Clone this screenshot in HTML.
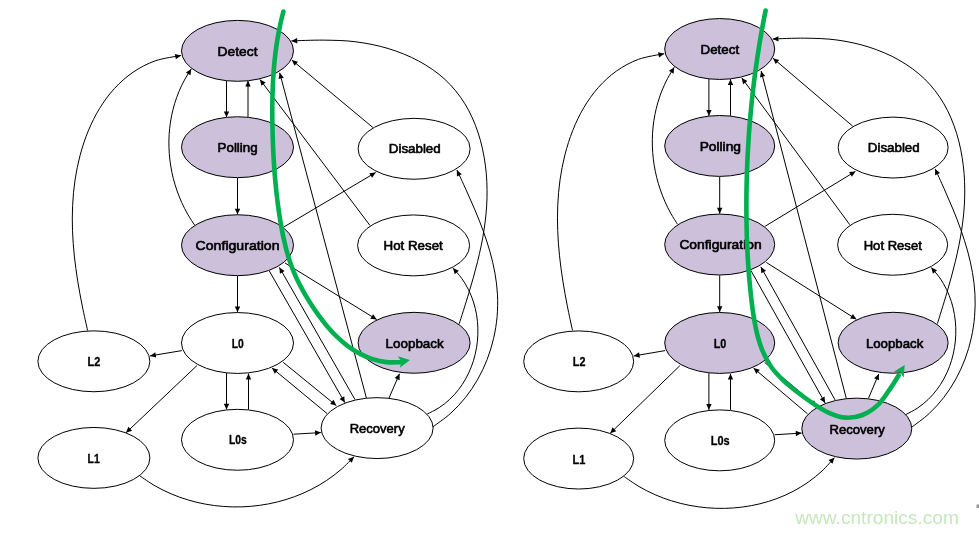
<!DOCTYPE html>
<html lang="en">
<head>
<meta charset="utf-8">
<title>LTSSM state diagrams</title>
<style>
html,body{margin:0;padding:0;background:#fff;}
body{width:979px;height:533px;overflow:hidden;}
svg{display:block;will-change:transform;}
.d line,.d path{fill:none;stroke:#000;stroke-width:1;}
.d ellipse{stroke:#000;stroke-width:1;}
.d .h{fill:#000;stroke:none;}
.d text{font-family:"Liberation Sans",sans-serif;font-weight:normal;font-size:12.5px;fill:#000;stroke:#000;stroke-width:0.6;stroke-linejoin:round;}
.d text.s{font-weight:bold;stroke-width:0.3;}
.d path.g{stroke:#00b050;stroke-width:4.6;stroke-linecap:round;stroke-linejoin:round;}
.d .gh{fill:#00b050;stroke:none;}
.wm{font-family:"Liberation Sans",sans-serif;font-size:19px;fill:#c6e7bc;}
</style>
</head>
<body>
<svg width="979" height="533" viewBox="0 0 979 533">
<g class="d">
<line x1="226.5" y1="80.5" x2="226.5" y2="117.3"/>
<polygon class="h" points="226.5,117.3 223.8,111.5 229.2,111.5"/>
<line x1="248" y1="117.3" x2="248" y2="80.8"/>
<polygon class="h" points="248,80.8 250.7,86.6 245.3,86.6"/>
<line x1="237.5" y1="178" x2="237.5" y2="214.5"/>
<polygon class="h" points="237.5,214.5 234.8,208.7 240.2,208.7"/>
<line x1="237.5" y1="275.8" x2="237.5" y2="312.2"/>
<polygon class="h" points="237.5,312.2 234.8,306.4 240.2,306.4"/>
<line x1="226.5" y1="373" x2="226.5" y2="409.5"/>
<polygon class="h" points="226.5,409.5 223.8,403.7 229.2,403.7"/>
<line x1="248.5" y1="409.5" x2="248.5" y2="373.6"/>
<polygon class="h" points="248.5,373.6 251.2,379.4 245.8,379.4"/>
<line x1="181.9" y1="350.6" x2="150" y2="355.9"/>
<polygon class="h" points="150,355.9 155.28,352.29 156.16,357.61"/>
<line x1="196.9" y1="365.6" x2="126" y2="432.8"/>
<polygon class="h" points="126,432.8 128.35,426.85 132.07,430.77"/>
<line x1="293.5" y1="434.2" x2="320.9" y2="432.6"/>
<polygon class="h" points="320.9,432.6 315.27,435.63 314.95,430.24"/>
<line x1="283.2" y1="362.3" x2="336.3" y2="405.6"/>
<polygon class="h" points="336.3,405.6 330.1,404.03 333.51,399.84"/>
<line x1="327" y1="413.5" x2="272" y2="368"/>
<polygon class="h" points="272,368 278.19,369.62 274.75,373.78"/>
<line x1="269.3" y1="271" x2="344.8" y2="402.6"/>
<polygon class="h" points="344.8,402.6 339.57,398.91 344.26,396.23"/>
<line x1="355" y1="399.6" x2="279.4" y2="267.4"/>
<polygon class="h" points="279.4,267.4 284.62,271.09 279.94,273.78"/>
<line x1="366.4" y1="398" x2="279.7" y2="72.8"/>
<polygon class="h" points="279.7,72.8 283.8,77.71 278.59,79.1"/>
<line x1="285" y1="263" x2="376.7" y2="319.5"/>
<polygon class="h" points="376.7,319.5 370.35,318.76 373.18,314.16"/>
<line x1="389" y1="398" x2="399.5" y2="373.8"/>
<polygon class="h" points="399.5,373.8 399.67,380.2 394.71,378.05"/>
<line x1="283.8" y1="227" x2="375.7" y2="172.5"/>
<polygon class="h" points="375.7,172.5 372.09,177.78 369.33,173.14"/>
<line x1="372.9" y1="127.5" x2="291.8" y2="60"/>
<polygon class="h" points="291.8,60 297.99,61.64 294.53,65.79"/>
<line x1="370" y1="225.5" x2="260" y2="79.6"/>
<polygon class="h" points="260,79.6 265.65,82.61 261.34,85.86"/>
<path d="M87.6 330.5C86.71 326.42 83.92 314.25 82.27 306.03C80.63 297.8 79.05 289.49 77.73 281.15C76.41 272.81 75.22 264.4 74.35 255.99C73.48 247.58 72.8 239.13 72.51 230.69C72.22 222.25 72.19 213.78 72.61 205.36C73.03 196.94 73.77 188.51 75.02 180.14C76.28 171.78 77.93 163.37 80.13 155.17C82.34 146.96 85.01 138.72 88.26 130.92C91.51 123.12 95.27 115.44 99.64 108.37C104.01 101.3 108.92 94.5 114.48 88.49C120.03 82.47 126.2 76.88 132.99 72.28C139.77 67.67 147.19 63.67 155.19 60.87C163.19 58.08 176.7 56.4 181 55.5"/>
<polygon class="h" points="181,55.5 175.87,59.33 174.77,54.04"/>
<path d="M194.5 225C193.36 223.19 189.77 217.87 187.66 214.17C185.55 210.46 183.61 206.65 181.85 202.78C180.09 198.91 178.5 194.95 177.09 190.94C175.68 186.94 174.44 182.85 173.39 178.75C172.34 174.64 171.47 170.47 170.79 166.29C170.1 162.11 169.6 157.89 169.28 153.67C168.97 149.46 168.84 145.21 168.9 140.99C168.96 136.77 169.21 132.54 169.66 128.34C170.1 124.15 170.74 119.96 171.58 115.82C172.41 111.69 173.44 107.57 174.67 103.53C175.9 99.49 177.33 95.48 178.96 91.57C180.59 87.65 182.42 83.78 184.46 80.02C186.5 76.26 190.08 70.84 191.2 69"/>
<polygon class="h" points="191.2,69 190.48,75.36 185.87,72.54"/>
<path d="M139.9 475.9C142.43 477.56 149.84 482.87 155.07 485.86C160.29 488.86 165.72 491.54 171.25 493.9C176.77 496.26 182.47 498.29 188.22 500.01C193.98 501.73 199.86 503.12 205.77 504.2C211.68 505.28 217.69 506.04 223.69 506.48C229.68 506.93 235.74 507.05 241.74 506.86C247.75 506.67 253.78 506.16 259.73 505.34C265.67 504.52 271.61 503.39 277.42 501.94C283.24 500.49 289 498.72 294.61 496.65C300.22 494.57 305.75 492.18 311.08 489.48C316.42 486.78 321.63 483.77 326.61 480.45C331.6 477.12 336.43 473.49 340.99 469.55C345.56 465.61 351.83 458.92 354 456.8"/>
<polygon class="h" points="354,456.8 351.75,462.79 347.97,458.93"/>
<path d="M459.2 323.8C460.82 318.63 465.84 303.18 468.9 292.81C471.96 282.44 475.06 272.05 477.58 261.58C480.1 251.11 482.45 240.59 484.02 229.96C485.59 219.33 486.79 208.62 487.01 197.81C487.23 186.99 486.81 175.87 485.34 165.08C483.87 154.29 481.6 143.28 478.19 133.06C474.78 122.85 470.46 112.75 464.9 103.8C459.35 94.85 452.59 86.49 444.87 79.35C437.14 72.21 427.99 66.08 418.53 60.94C409.07 55.8 398.53 51.69 388.1 48.5C377.67 45.31 366.65 43.21 355.93 41.82C345.21 40.42 334.52 40.29 323.76 40.14C313.01 39.98 296.79 40.77 291.4 40.9"/>
<polygon class="h" points="291.4,40.9 297.13,38.06 297.26,43.46"/>
<path d="M432.8 426.9C435.76 424.65 445.1 418.35 450.57 413.42C456.03 408.5 461.05 403.06 465.59 397.35C470.13 391.64 474.22 385.5 477.82 379.17C481.42 372.84 484.55 366.15 487.18 359.35C489.81 352.55 491.97 345.48 493.62 338.37C495.27 331.26 496.43 323.96 497.08 316.7C497.72 309.44 497.84 302.09 497.49 294.83C497.13 287.56 496.2 280.31 494.95 273.11C493.69 265.92 491.94 258.76 489.96 251.67C487.99 244.58 485.6 237.54 483.1 230.58C480.59 223.61 477.77 216.7 474.92 209.89C472.07 203.07 469 196.32 466 189.67C463 183.02 458.42 173.28 456.9 170"/>
<polygon class="h" points="456.9,170 461.79,174.13 456.88,176.4"/>
<path d="M427.2 414.1C429.2 413.02 435.44 410.09 439.18 407.65C442.91 405.21 446.4 402.43 449.61 399.44C452.82 396.46 455.78 393.18 458.46 389.74C461.14 386.3 463.56 382.61 465.69 378.81C467.83 375 469.7 370.99 471.28 366.9C472.87 362.82 474.18 358.57 475.2 354.29C476.22 350.01 476.96 345.61 477.41 341.23C477.85 336.84 478.01 332.38 477.87 327.98C477.73 323.58 477.31 319.14 476.57 314.81C475.83 310.47 474.8 306.15 473.46 301.97C472.12 297.79 470.48 293.67 468.52 289.73C466.56 285.8 464.3 281.96 461.71 278.36C459.12 274.75 454.45 269.81 453 268.1"/>
<polygon class="h" points="453,268.1 458.81,270.77 454.7,274.27"/>
<ellipse cx="237.5" cy="50.85" rx="56" ry="30.45" fill="#ccc0da"/>
<ellipse cx="237.5" cy="147.2" rx="56" ry="30.45" fill="#ccc0da"/>
<ellipse cx="237.5" cy="245.2" rx="56" ry="30.45" fill="#ccc0da"/>
<ellipse cx="237.5" cy="343" rx="56" ry="30.45" fill="#fff"/>
<ellipse cx="237.5" cy="439.8" rx="56" ry="30.45" fill="#fff"/>
<ellipse cx="93.9" cy="361.3" rx="56" ry="30.45" fill="#fff"/>
<ellipse cx="93.9" cy="457.9" rx="56" ry="30.45" fill="#fff"/>
<ellipse cx="414.1" cy="148.8" rx="56" ry="30.45" fill="#fff"/>
<ellipse cx="413.6" cy="245.4" rx="56" ry="30.45" fill="#fff"/>
<ellipse cx="414.1" cy="342.8" rx="56" ry="30.45" fill="#ccc0da"/>
<ellipse cx="377.1" cy="428.1" rx="56" ry="30.45" fill="#fff"/>
<text x="217.6" y="55.9" textLength="39.9" lengthAdjust="spacingAndGlyphs">Detect</text>
<text x="217.6" y="151.6" textLength="40" lengthAdjust="spacingAndGlyphs">Polling</text>
<text x="195.6" y="249.7" textLength="83.9" lengthAdjust="spacingAndGlyphs">Configuration</text>
<text class="s" x="231.7" y="347.9" textLength="12.1" lengthAdjust="spacingAndGlyphs">L0</text>
<text class="s" x="228.9" y="443.7" textLength="17.8" lengthAdjust="spacingAndGlyphs">L0s</text>
<text class="s" x="87.5" y="366" textLength="12.8" lengthAdjust="spacingAndGlyphs">L2</text>
<text class="s" x="87.5" y="462.9" textLength="12.2" lengthAdjust="spacingAndGlyphs">L1</text>
<text x="388.8" y="152.5" textLength="51.9" lengthAdjust="spacingAndGlyphs">Disabled</text>
<text x="383.5" y="249.8" textLength="59.3" lengthAdjust="spacingAndGlyphs">Hot Reset</text>
<text x="385.6" y="347.6" textLength="58.1" lengthAdjust="spacingAndGlyphs">Loopback</text>
<text x="349.7" y="432.9" textLength="55" lengthAdjust="spacingAndGlyphs">Recovery</text>
<path class="g" d="M283.4 11.5C282.84 13.82 281.05 20.78 280.05 25.43C279.06 30.09 278.19 34.76 277.41 39.44C276.63 44.12 275.97 48.82 275.4 53.52C274.82 58.22 274.35 62.94 273.95 67.66C273.55 72.38 273.24 77.1 272.99 81.84C272.75 86.57 272.58 91.31 272.47 96.06C272.35 100.8 272.31 105.55 272.3 110.3C272.29 115.05 272.34 119.81 272.42 124.56C272.49 129.31 272.61 134.07 272.77 138.83C272.92 143.58 273.11 148.34 273.35 153.09C273.59 157.84 273.87 162.59 274.2 167.33C274.53 172.08 274.91 176.82 275.34 181.56C275.78 186.29 276.26 191.03 276.81 195.75C277.36 200.47 277.96 205.19 278.64 209.9C279.31 214.61 280.03 219.31 280.85 223.99C281.67 228.68 282.53 233.36 283.54 238C284.55 242.63 285.63 247.25 286.91 251.79C288.18 256.34 289.57 260.85 291.17 265.27C292.78 269.69 294.57 274.04 296.55 278.31C298.52 282.59 300.72 286.77 303.03 290.91C305.34 295.06 307.82 299.14 310.4 303.16C312.98 307.19 315.67 311.2 318.5 315.08C321.32 318.97 324.24 322.82 327.34 326.46C330.43 330.11 333.65 333.66 337.06 336.94C340.48 340.22 344.06 343.35 347.82 346.13C351.59 348.92 355.54 351.49 359.65 353.65C363.76 355.82 368.05 357.7 372.5 359.11C376.94 360.51 381.55 361.57 386.3 362.09C391.05 362.6 398.55 362.18 401 362.2"/>
<polygon class="gh" points="410,360 399.76,367.85 401.54,361.57 397.63,356.35"/>
</g>
<g class="d">
<line x1="708.9" y1="78.83" x2="708.9" y2="115.86"/>
<polygon class="h" points="708.9,115.86 706.2,110.06 711.6,110.06"/>
<line x1="730.5" y1="115.86" x2="730.5" y2="79.14"/>
<polygon class="h" points="730.5,79.14 733.2,84.94 727.8,84.94"/>
<line x1="719.7" y1="176.94" x2="719.7" y2="213.66"/>
<polygon class="h" points="719.7,213.66 717,207.86 722.4,207.86"/>
<line x1="719.7" y1="275.34" x2="719.7" y2="311.97"/>
<polygon class="h" points="719.7,311.97 717,306.17 722.4,306.17"/>
<line x1="708.9" y1="373.15" x2="708.9" y2="409.87"/>
<polygon class="h" points="708.9,409.87 706.2,404.07 711.6,404.07"/>
<line x1="730.5" y1="409.87" x2="730.5" y2="373.75"/>
<polygon class="h" points="730.5,373.75 733.2,379.55 727.8,379.55"/>
<line x1="665.1" y1="350.61" x2="633.77" y2="355.94"/>
<polygon class="h" points="633.77,355.94 639.04,352.31 639.94,357.63"/>
<line x1="679.83" y1="365.7" x2="610.21" y2="433.32"/>
<polygon class="h" points="610.21,433.32 612.48,427.34 616.25,431.21"/>
<line x1="774.69" y1="434.73" x2="801.6" y2="433.12"/>
<polygon class="h" points="801.6,433.12 795.97,436.16 795.65,430.77"/>
<line x1="764.58" y1="362.38" x2="816.72" y2="405.95"/>
<polygon class="h" points="816.72,405.95 810.54,404.3 814,400.16"/>
<line x1="807.59" y1="413.9" x2="753.58" y2="368.12"/>
<polygon class="h" points="753.58,368.12 759.75,369.81 756.26,373.93"/>
<line x1="750.93" y1="270.51" x2="825.07" y2="402.93"/>
<polygon class="h" points="825.07,402.93 819.88,399.19 824.59,396.55"/>
<line x1="835.08" y1="399.91" x2="760.84" y2="266.89"/>
<polygon class="h" points="760.84,266.89 766.03,270.64 761.31,273.27"/>
<line x1="846.28" y1="398.3" x2="761.14" y2="71.09"/>
<polygon class="h" points="761.14,71.09 765.21,76.02 759.99,77.38"/>
<line x1="766.34" y1="262.47" x2="856.39" y2="319.32"/>
<polygon class="h" points="856.39,319.32 850.05,318.5 852.93,313.94"/>
<line x1="868.47" y1="398.3" x2="878.78" y2="373.95"/>
<polygon class="h" points="878.78,373.95 879.01,380.35 874.03,378.24"/>
<line x1="765.16" y1="226.24" x2="855.41" y2="171.4"/>
<polygon class="h" points="855.41,171.4 851.86,176.72 849.05,172.11"/>
<line x1="852.66" y1="126.13" x2="773.02" y2="58.21"/>
<polygon class="h" points="773.02,58.21 779.19,59.92 775.68,64.02"/>
<line x1="849.81" y1="224.73" x2="741.79" y2="77.93"/>
<polygon class="h" points="741.79,77.93 747.41,81 743.06,84.2"/>
<path d="M572.5 330.38C571.63 326.29 568.9 314.08 567.29 305.84C565.69 297.6 564.14 289.28 562.85 280.94C561.55 272.6 560.39 264.2 559.53 255.79C558.67 247.38 558 238.93 557.7 230.5C557.41 222.06 557.36 213.6 557.75 205.18C558.13 196.75 558.83 188.31 560.03 179.93C561.22 171.55 562.8 163.12 564.92 154.88C567.04 146.64 569.6 138.35 572.74 130.49C575.88 122.63 579.52 114.88 583.77 107.72C588.02 100.57 592.81 93.68 598.26 87.57C603.71 81.46 609.76 75.76 616.46 71.05C623.16 66.35 630.5 62.23 638.45 59.33C646.41 56.44 659.92 54.62 664.22 53.68"/>
<polygon class="h" points="664.22,53.68 659.13,57.56 657.97,52.29"/>
<path d="M677.47 224.23C676.35 222.4 672.82 217.02 670.75 213.28C668.68 209.54 666.77 205.7 665.04 201.8C663.31 197.9 661.74 193.91 660.36 189.88C658.98 185.85 657.76 181.74 656.73 177.61C655.7 173.49 654.84 169.3 654.17 165.1C653.5 160.9 653 156.67 652.69 152.43C652.38 148.2 652.26 143.94 652.32 139.7C652.38 135.46 652.63 131.21 653.07 127C653.5 122.79 654.13 118.58 654.95 114.43C655.77 110.27 656.78 106.14 657.99 102.07C659.2 98 660.6 93.98 662.21 90.03C663.81 86.08 665.61 82.19 667.61 78.4C669.62 74.6 673.13 69.12 674.23 67.26"/>
<polygon class="h" points="674.23,67.26 673.59,73.63 668.95,70.87"/>
<path d="M624.2 476.6C626.66 478.25 633.87 483.52 638.98 486.52C644.09 489.52 649.43 492.22 654.87 494.61C660.3 497 665.92 499.09 671.61 500.87C677.29 502.64 683.12 504.11 688.98 505.25C694.83 506.4 700.79 507.24 706.73 507.76C712.68 508.28 718.69 508.49 724.64 508.37C730.6 508.25 736.58 507.81 742.47 507.05C748.36 506.29 754.23 505.21 759.97 503.79C765.71 502.38 771.4 500.64 776.92 498.57C782.43 496.5 787.86 494.11 793.07 491.38C798.28 488.64 803.36 485.58 808.19 482.18C813.02 478.77 817.68 475.04 822.05 470.96C826.42 466.88 832.34 459.91 834.4 457.7"/>
<polygon class="h" points="834.4,457.7 832.42,463.78 828.47,460.1"/>
<path d="M937.41 323.64C938.99 318.48 943.89 303.02 946.88 292.67C949.87 282.31 952.88 271.96 955.34 261.52C957.81 251.09 960.1 240.62 961.65 230.03C963.21 219.45 964.4 208.79 964.67 198.01C964.94 187.24 964.62 176.17 963.27 165.39C961.93 154.61 959.82 143.59 956.6 133.33C953.38 123.08 949.28 112.92 943.95 103.86C938.62 94.8 932.14 86.29 924.64 78.98C917.13 71.68 908.22 65.36 898.93 60.04C889.65 54.73 879.27 50.42 868.94 47.08C858.61 43.74 847.65 41.49 836.96 40.01C826.27 38.52 815.53 38.34 804.81 38.17C794.09 38 777.99 38.85 772.63 38.99"/>
<polygon class="h" points="772.63,38.99 778.36,36.14 778.49,41.54"/>
<path d="M911.48 427.38C914.42 425.08 923.7 418.61 929.1 413.6C934.51 408.58 939.46 403.07 943.93 397.3C948.4 391.52 952.41 385.33 955.93 378.95C959.45 372.56 962.5 365.84 965.07 359C967.63 352.17 969.71 345.07 971.3 337.93C972.9 330.8 974.01 323.48 974.61 316.2C975.22 308.92 975.32 301.55 974.96 294.26C974.6 286.98 973.68 279.7 972.45 272.48C971.22 265.27 969.51 258.09 967.58 250.97C965.65 243.85 963.32 236.78 960.87 229.79C958.42 222.79 955.67 215.85 952.88 209C950.08 202.15 947.07 195.36 944.12 188.68C941.17 181.99 936.64 172.19 935.15 168.89"/>
<polygon class="h" points="935.15,168.89 940,173.06 935.08,175.29"/>
<path d="M905.98 414.5C907.96 413.4 914.14 410.36 917.84 407.86C921.53 405.36 924.96 402.54 928.13 399.51C931.3 396.48 934.21 393.17 936.84 389.7C939.48 386.23 941.85 382.52 943.95 378.69C946.04 374.86 947.87 370.83 949.42 366.73C950.96 362.63 952.24 358.37 953.23 354.08C954.22 349.79 954.93 345.38 955.36 340.99C955.78 336.6 955.92 332.13 955.77 327.72C955.62 323.31 955.19 318.87 954.45 314.53C953.72 310.19 952.7 305.85 951.38 301.66C950.05 297.47 948.43 293.34 946.51 289.38C944.59 285.43 942.36 281.57 939.83 277.94C937.3 274.31 932.74 269.32 931.32 267.6"/>
<polygon class="h" points="931.32,267.6 937.09,270.36 932.92,273.79"/>
<ellipse cx="719.7" cy="49" rx="54.99" ry="30.45" fill="#ccc0da"/>
<ellipse cx="719.7" cy="145.95" rx="54.99" ry="30.45" fill="#ccc0da"/>
<ellipse cx="719.7" cy="244.55" rx="54.99" ry="30.45" fill="#ccc0da"/>
<ellipse cx="719.7" cy="342.96" rx="54.99" ry="30.45" fill="#ccc0da"/>
<ellipse cx="719.7" cy="440.36" rx="54.99" ry="30.45" fill="#fff"/>
<ellipse cx="578.68" cy="361.37" rx="54.99" ry="30.45" fill="#fff"/>
<ellipse cx="578.68" cy="458.57" rx="54.99" ry="30.45" fill="#fff"/>
<ellipse cx="893.12" cy="147.56" rx="54.99" ry="30.45" fill="#fff"/>
<ellipse cx="892.63" cy="244.76" rx="54.99" ry="30.45" fill="#fff"/>
<ellipse cx="893.12" cy="342.76" rx="54.99" ry="30.45" fill="#ccc0da"/>
<ellipse cx="856.79" cy="428.59" rx="54.99" ry="30.45" fill="#ccc0da"/>
<text x="700.6" y="54.1" textLength="38.5" lengthAdjust="spacingAndGlyphs">Detect</text>
<text x="699.7" y="150.9" textLength="41.3" lengthAdjust="spacingAndGlyphs">Polling</text>
<text x="679.4" y="248.6" textLength="82.2" lengthAdjust="spacingAndGlyphs">Configuration</text>
<text class="s" x="713.7" y="347.9" textLength="12.6" lengthAdjust="spacingAndGlyphs">L0</text>
<text class="s" x="710.8" y="444.7" textLength="18.9" lengthAdjust="spacingAndGlyphs">L0s</text>
<text class="s" x="572.8" y="366" textLength="12.6" lengthAdjust="spacingAndGlyphs">L2</text>
<text class="s" x="572.5" y="464" textLength="12.8" lengthAdjust="spacingAndGlyphs">L1</text>
<text x="867.8" y="151.7" textLength="51.9" lengthAdjust="spacingAndGlyphs">Disabled</text>
<text x="863.7" y="249.8" textLength="58.1" lengthAdjust="spacingAndGlyphs">Hot Reset</text>
<text x="865.9" y="347.6" textLength="57.4" lengthAdjust="spacingAndGlyphs">Loopback</text>
<text x="829.5" y="433.5" textLength="55.3" lengthAdjust="spacingAndGlyphs">Recovery</text>
<path class="g" d="M765.6 10.5C765.03 13.46 763.27 22.31 762.2 28.24C761.12 34.16 760.1 40.11 759.13 46.06C758.16 52.01 757.25 57.98 756.4 63.95C755.54 69.92 754.74 75.91 754 81.9C753.26 87.9 752.57 93.9 751.93 99.91C751.3 105.92 750.72 111.93 750.2 117.95C749.67 123.97 749.2 130 748.79 136.03C748.37 142.06 748.01 148.09 747.7 154.12C747.39 160.15 747.14 166.19 746.94 172.22C746.74 178.26 746.59 184.29 746.5 190.33C746.4 196.36 746.36 202.39 746.38 208.42C746.39 214.44 746.45 220.47 746.58 226.49C746.7 232.51 746.88 238.53 747.13 244.54C747.38 250.56 747.69 256.57 748.08 262.59C748.46 268.61 748.92 274.62 749.46 280.64C749.99 286.65 750.6 292.67 751.31 298.69C752.02 304.71 752.72 310.77 753.71 316.74C754.7 322.72 755.72 328.72 757.26 334.54C758.79 340.35 760.5 346.15 762.9 351.65C765.3 357.14 768.17 362.64 771.65 367.51C775.12 372.37 779.47 376.75 783.74 380.84C788.02 384.92 792.55 388.34 797.29 392.02C802.04 395.7 807.04 399.48 812.23 402.9C817.41 406.32 822.89 410.11 828.41 412.56C833.93 415.01 839.69 417.21 845.37 417.61C851.05 418.02 857.1 417.07 862.49 415C867.88 412.92 873.31 409.22 877.7 405.17C882.09 401.11 885.35 395.61 888.83 390.67C892.32 385.72 896.97 378.03 898.6 375.5"/>
<polygon class="gh" points="904.7,365 903.74,377.87 900.24,372.35 893.74,371.8"/>
</g>
<text class="wm" x="795.2" y="523.5" textLength="163.7" lengthAdjust="spacingAndGlyphs">www.cntronics.com</text>
<rect x="976.5" y="504.5" width="2.5" height="3.5" fill="#999"/>
</svg>
</body>
</html>
